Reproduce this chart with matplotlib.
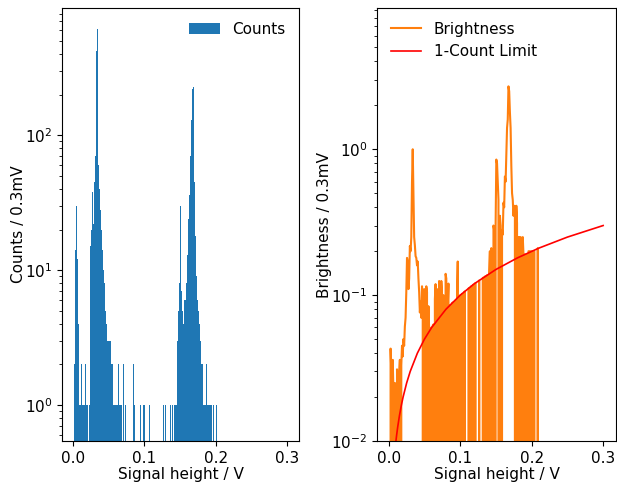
import numpy as np
import matplotlib
matplotlib.use("Agg")
import matplotlib.pyplot as plt

plt.rcParams['font.size'] = 11

###
### Data
###
bin_w = 0.0003          # 0.3 mV bins for the counts histogram
n_bins = 1000

# contiguous runs of counts: (start voltage, counts per 0.3 mV bin)
peak_a_v = 0.0015
peak_a = [1, 2, 3, 5, 8, 10, 14, 22, 35, 50, 44, 30, 24, 20, 16, 12, 9, 7, 6, 5,
          4, 3, 3, 2, 2, 1]
gap_a_v = 0.0093
gap_a = [1, 0, 2, 1, 3, 1, 1, 0, 2, 1, 5, 1, 0, 1, 2, 3, 1, 1, 0, 1, 2, 1, 1, 3,
         0, 1, 1, 2, 1, 0, 5, 1, 1, 2, 1, 0, 1, 3, 1, 1, 2, 0, 1, 1, 2, 1, 3, 2, 4]
peak_b_v = 0.024
peak_b = [12, 15, 17, 14, 16, 18, 20,
          25, 32, 42, 38, 28, 22,
          20, 18, 22, 25, 30, 35, 40, 45,
          50, 55, 60, 70, 85, 100, 160,
          260, 420, 600, 750, 800, 760, 620, 400, 200,
          90, 60, 50, 48, 45, 42, 40, 36, 34,
          32, 30, 28, 26, 25, 22, 20, 19, 17, 16,
          15, 14, 13, 12, 12, 11, 10, 11, 9, 8,
          8, 7, 7, 6, 5, 5, 4, 5, 4, 3,
          4, 3, 3, 2, 3, 4, 2, 3, 2, 3]
tail_b_v = 0.0498
tail_b = [2, 3, 1, 2, 3, 4, 2, 1, 3, 2, 4, 5, 3, 2, 1, 3, 2, 1, 2, 3, 1, 2, 1, 1,
          2, 0, 1, 1, 2, 1, 1, 0, 1, 2, 1, 1, 1, 0, 1, 3, 1, 1, 0, 1, 1, 1, 2, 1,
          0, 1, 1, 2, 1, 0, 1, 1, 0, 1, 3, 1, 1, 0, 1, 1, 0, 1, 1, 1]
peak_c_v = 0.141
peak_c = [1, 1, 2, 1, 0, 1, 2, 1, 1, 3, 1, 2, 1, 2, 3, 2,
          2, 3, 2, 3, 4, 3, 5, 4, 6, 5, 8, 10, 12, 18,
          22, 30, 28, 20, 12, 9, 7, 6,
          5, 4, 6, 5, 4, 5, 3, 4, 6, 5, 4, 5, 6,
          5, 6, 4, 7, 6, 8, 7, 9, 8, 10, 12, 11, 14, 13, 15, 16, 18, 22, 24, 25,
          28, 32, 36, 40, 45, 52, 60, 70, 80, 90, 100, 115, 130, 150, 175, 200,
          220, 240, 250, 245,
          250, 230, 180, 130, 90, 60, 45, 35, 28, 22, 18, 15, 13, 12, 10,
          9, 10, 8, 9, 7, 6, 7, 5, 6, 5, 4, 5, 4, 3, 4, 3, 3, 4, 2, 3, 3, 2, 3, 2,
          3, 2, 2, 3, 2, 2, 1, 2, 2, 1, 2, 3, 2, 1, 2, 2, 1, 2, 1, 2, 2, 1, 1, 2,
          1, 2, 1, 1, 2, 1, 1, 2, 1, 2, 1, 1, 2,
          1, 0, 1, 1, 1, 0, 1, 1, 0, 1, 1, 1, 0, 1, 0, 1, 1, 0, 1, 1, 0, 1, 0, 0, 1,
          1, 0, 1, 0, 1, 1, 0, 1, 0, 1, 1]

# isolated single bins
lone_v = [0.0684, 0.0693, 0.0705, 0.0717, 0.0732, 0.0741, 0.0750, 0.0753, 0.0765,
          0.0777, 0.0786, 0.0798, 0.0810, 0.0825, 0.0834, 0.0846, 0.0858, 0.0870,
          0.0882, 0.0897, 0.0906, 0.0927, 0.0942, 0.0951, 0.0966, 0.0984, 0.0999,
          0.1020, 0.1044, 0.1068, 0.1092, 0.1113, 0.1137, 0.1146, 0.1161, 0.1176,
          0.1203, 0.1230, 0.1266, 0.1293, 0.1323, 0.1347, 0.1362, 0.1392,
          0.2025, 0.2070]
lone_n = [2, 1, 2, 3, 1, 2, 2, 1, 2, 1, 1, 1, 3, 1, 2, 2, 1, 1, 1, 1, 1, 1, 1, 1,
          3, 1, 1, 1, 1, 1, 1, 1, 1, 1, 1, 1, 1, 1, 1, 1, 1, 1, 1, 1,
          1, 1]

# brightness, 1 mV steps from 0 V
bright_step = 0.001
brightness = [0, 0, 0.043, 0.03, 0, 0.036, 0.022, 0, 0.025, 0.018,
              0, 0.031, 0.024, 0, 0.028, 0.036, 0, 0.033, 0.045, 0.038,
              0.05, 0.045, 0.061, 0.07, 0.105, 0.18, 0.17, 0.11, 0.13, 0.217,
              0.2, 0.25, 0.6, 1.0, 0.5, 0.25, 0.22, 0.185, 0.18, 0.16,
              0.17, 0.13, 0.105, 0.076, 0.09, 0.07, 0.115, 0.075, 0, 0.11,
              0.1, 0, 0.115, 0.105, 0, 0.084, 0.058, 0, 0.058, 0.06,
              0, 0.062, 0.063, 0, 0.094, 0.119, 0, 0.11, 0.1, 0,
              0.125, 0.12, 0, 0.125, 0.1, 0, 0.1, 0.077, 0, 0.14,
              0.13, 0, 0.082, 0.12, 0, 0.085, 0.086, 0, 0.088, 0.089,
              0, 0, 0.091, 0.092, 0, 0.094, 0.17, 0, 0.097, 0.099,
              0.1, 0, 0.102, 0, 0, 0.105, 0.106, 0, 0, 0,
              0, 0.111, 0.112, 0, 0.114, 0.115, 0, 0.117, 0.118, 0,
              0.12, 0.121, 0, 0, 0, 0, 0.126, 0, 0, 0,
              0, 0.131, 0.132, 0, 0.134, 0.135, 0, 0.137, 0, 0,
              0.14, 0.2, 0, 0.21, 0.19, 0, 0.3, 0.28, 0, 0.3,
              0.85, 0.8, 0.6, 0.45, 0, 0.35, 0.3, 0, 0.28, 0.26,
              0.43, 0.4, 0.65, 0.6, 0.9, 1.4, 1.6, 2.7, 2.5, 1.8,
              1.4, 0.77, 0.5, 0.45, 0.35, 0.41, 0.4, 0, 0.41, 0.31,
              0, 0.25, 0.25, 0, 0.25, 0.24, 0, 0.25, 0.19, 0,
              0.19, 0.19, 0, 0.19, 0, 0.2, 0.2, 0, 0.2, 0.2,
              0, 0.2, 0, 0.2, 0, 0, 0, 0, 0.21, 0, 0]

# 1-count limit curve
limit_v = [0.009, 0.0095, 0.01, 0.011, 0.0125, 0.015, 0.0175, 0.02, 0.025, 0.03,
           0.04, 0.05, 0.06, 0.08, 0.1, 0.12, 0.15, 0.18, 0.21, 0.25, 0.3]
limit_b = [0.009, 0.0095, 0.01, 0.011, 0.0125, 0.015, 0.0175, 0.02, 0.025, 0.03,
           0.04, 0.05, 0.06, 0.08, 0.1, 0.12, 0.15, 0.18, 0.21, 0.25, 0.3]

###
### Assemble histogram
###
counts = np.zeros(n_bins)
for start, seg in [(peak_a_v, peak_a), (gap_a_v, gap_a), (peak_b_v, peak_b),
                   (tail_b_v, tail_b), (peak_c_v, peak_c)]:
    i0 = int(round(start / bin_w))
    counts[i0:i0 + len(seg)] = seg
for v, n in zip(lone_v, lone_n):
    counts[int(round(v / bin_w))] = n
edges = np.arange(n_bins) * bin_w
nz = counts > 0

bx = (np.arange(len(brightness)) + 0.5) * bright_step

###
### Plot
###
fig = plt.figure(figsize=(6.17, 4.84), dpi=100)
ax1 = fig.add_axes([62/617, 1 - 441/484, 237/617, 433/484])
ax2 = fig.add_axes([377/617, 1 - 441/484, 239/617, 433/484])

ax1.bar(edges[nz], counts[nz], width=bin_w, align='edge', color='C0',
        linewidth=0, label='Counts')
ax1.set_yscale('log')
ax1.set_ylim(0.54, 880)
ax1.set_xlim(-0.0155, 0.3165)
ax1.set_xticks([0.0, 0.1, 0.2, 0.3])
ax1.set_xlabel('Signal height / V', labelpad=1)
ax1.set_ylabel('Counts / 0.3mV', labelpad=-1)
ax1.legend(loc='upper right', frameon=False)

ax2.plot(bx, brightness, color='C1', label='Brightness')
ax2.plot(limit_v, limit_b, color='red', linewidth=1.2, label='1-Count Limit')
ax2.set_yscale('log')
ax2.set_ylim(0.01, 9.3)
ax2.set_xlim(-0.0165, 0.318)
ax2.set_xticks([0.0, 0.1, 0.2, 0.3])
ax2.set_xlabel('Signal height / V', labelpad=1)
ax2.set_ylabel('Brightness / 0.3mV', labelpad=-1)
ax2.legend(loc='upper left', frameon=False)

fig.savefig('out.png', dpi=100)
